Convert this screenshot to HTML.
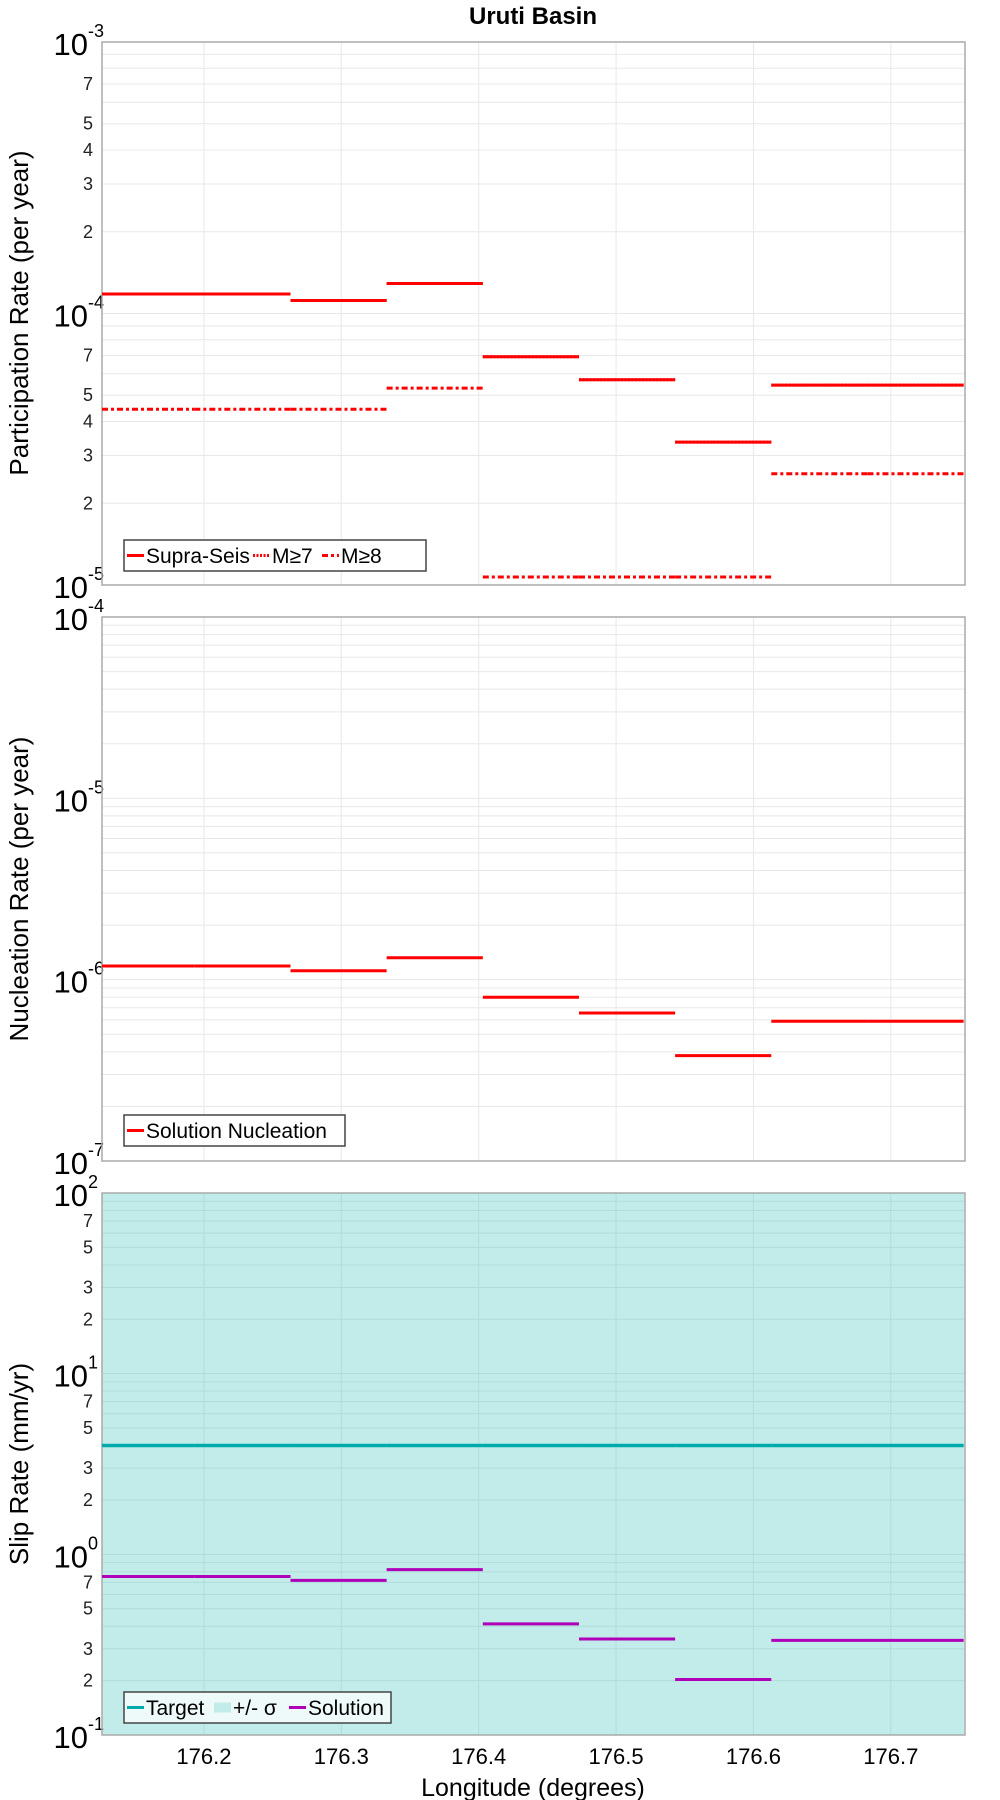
<!DOCTYPE html>
<html><head><meta charset="utf-8"><style>
html,body{margin:0;padding:0;background:#fff}
svg{display:block;font-family:"Liberation Sans","DejaVu Sans",sans-serif}
</style></head><body>
<svg id="c" width="1000" height="1800" viewBox="0 0 1000 1800" xmlns="http://www.w3.org/2000/svg"></svg>
<script>
const bounds=[176.123,176.193,176.263,176.333,176.403,176.473,176.543,176.613,176.683,176.753];
const xTicks=[176.2,176.3,176.4,176.5,176.6,176.7];
const xTickLabels=["176.2","176.3","176.4","176.5","176.6","176.7"];
const supraSeis=[1.18e-4,1.18e-4,1.117e-4,1.29e-4,6.93e-5,5.7e-5,3.36e-5,5.45e-5,5.45e-5];
const m7=[1.18e-4,1.18e-4,1.117e-4,1.29e-4,6.93e-5,5.7e-5,3.36e-5,5.45e-5,5.45e-5];
const m8=[4.44e-5,4.44e-5,4.44e-5,5.31e-5,1.07e-5,1.07e-5,1.07e-5,2.57e-5,2.57e-5];
const nucleation=[1.19e-6,1.19e-6,1.12e-6,1.32e-6,8.0e-7,6.55e-7,3.81e-7,5.9e-7,5.9e-7];
const targetSlip=[4.0,4.0,4.0,4.0,4.0,4.0,4.0,4.0,4.0];
const sigmaLow=[0.05,0.05,0.05,0.05,0.05,0.05,0.05,0.05,0.05];
const sigmaHigh=[200,200,200,200,200,200,200,200,200];
const solutionSlip=[0.754,0.754,0.718,0.823,0.412,0.34,0.203,0.334,0.334];

const NS="http://www.w3.org/2000/svg";
const svg=document.getElementById('c');
const L=102,R=965,X0=176.1258,X1=176.754;
function xs(v){return L+(v-X0)/(X1-X0)*(R-L);}
function xc(v){return Math.max(L,Math.min(R,xs(v)));}
function mk(tag,attrs,parent){const e=document.createElementNS(NS,tag);for(const k in attrs)e.setAttribute(k,attrs[k]);(parent||svg).appendChild(e);return e;}

const panels=[
 {top:42,bot:585,lo:-5,hi:-3,minorLabels:[2,3,4,5,7],name:'participation'},
 {top:617,bot:1161,lo:-7,hi:-4,minorLabels:[],name:'nucleation'},
 {top:1193,bot:1735,lo:-1,hi:2,minorLabels:[2,3,5,7],name:'slip'}
];
function ys(p,v){const lv=Math.log10(v);const c=Math.max(p.lo,Math.min(p.hi,lv));return p.bot-(c-p.lo)/(p.hi-p.lo)*(p.bot-p.top);}

let t=mk('text',{x:533,y:24,'text-anchor':'middle','font-size':24,'font-weight':'bold',fill:'#000'});
t.textContent='Uruti Basin';

panels.forEach((p,pi)=>{
 const g=mk('g',{});
 
 
 if(pi===2){
  for(let i=0;i<sigmaLow.length;i++){
   const r=mk('rect',{x:xc(bounds[i]),y:ys(p,sigmaHigh[i]),width:xc(bounds[i+1])-xc(bounds[i])+0.5,height:ys(p,sigmaLow[i])-ys(p,sigmaHigh[i]),fill:'#c2ecea'},g);
   
   
  }
 }
 const gc=pi===2?'#b0dcda':'#e8e8e8';
 for(let d=p.lo;d<p.hi;d++){
  for(let m=1;m<=9;m++){
   const v=m*Math.pow(10,d);
   const y=ys(p,v);
   const gl=mk('line',{x1:L,x2:R,y1:y,y2:y,stroke:gc,'stroke-width':1},g);
   
   
   if(m>1&&p.minorLabels.includes(m)){
    const tl=mk('text',{x:L-9,y:y+6,'text-anchor':'end','font-size':18,fill:'#222'},g);
    
    
    tl.textContent=String(m);
   }
  }
 }
 for(let d=p.lo;d<=p.hi;d++){
  const y=ys(p,Math.pow(10,d));
  const tl=mk('text',{x:L-14,y:y+13,'text-anchor':'end','font-size':31,fill:'#000'},g);
  
  
  tl.textContent='10';
  const sp=mk('text',{x:L-14,y:y-5,'text-anchor':'start','font-size':18,fill:'#000'},g);
  
  
  sp.textContent=String(d);
 }
 xTicks.forEach(v=>{
  const vl=mk('line',{x1:xs(v),x2:xs(v),y1:p.top,y2:p.bot,stroke:gc,'stroke-width':1},g);
  
  
 });
 const fr=mk('rect',{x:L,y:p.top,width:R-L,height:p.bot-p.top,fill:'none',stroke:'#aaaaaa','stroke-width':1.5},g);
 
 
});

function seriesSeg(p,arr,color,dash,name,w){
 for(let i=0;i<arr.length;i++){
  const y=ys(p,arr[i]);
  const a={x1:xc(bounds[i]),x2:xc(bounds[i+1]),y1:y,y2:y,stroke:color,'stroke-width':w||3};
  if(dash)a['stroke-dasharray']=dash;
  const ln=mk('line',a);
  
  
 }
}
seriesSeg(panels[0],supraSeis,'#ff0000',null,'supra-seis-segment');
seriesSeg(panels[0],m7,'#ff0000','2,1.5','m7-segment');
seriesSeg(panels[0],m8,'#ff0000','6,3,3,3','m8-segment');
seriesSeg(panels[1],nucleation,'#ff0000',null,'nucleation-segment');
seriesSeg(panels[2],targetSlip,'#00aaaa',null,'target-slip-segment',3.5);
seriesSeg(panels[2],solutionSlip,'#b000b8',null,'solution-slip-segment');

[['Participation Rate (per year)',313,'participation-axis-title'],['Nucleation Rate (per year)',889,'nucleation-axis-title'],['Slip Rate (mm/yr)',1464,'slip-axis-title']].forEach(a=>{
 const e=mk('text',{x:0,y:0,transform:'translate(28,'+a[1]+') rotate(-90)','text-anchor':'middle','font-size':26,fill:'#000'});
 
 
 e.textContent=a[0];
});
xTicks.forEach((v,i)=>{
 const e=mk('text',{x:xs(v),y:1764,'text-anchor':'middle','font-size':22,fill:'#000'});
 
 
 e.textContent=xTickLabels[i];
});
let xt=mk('text',{x:533,y:1796,'text-anchor':'middle','font-size':25,fill:'#000'});
xt.textContent='Longitude (degrees)';

function legend(x,y,w,bg,items,name){
 const g=mk('g',{});
 
 
 mk('rect',{x:x,y:y,width:w,height:31,fill:bg,stroke:'#444','stroke-width':1.5},g);
 let cx=x+3;
 items.forEach(it=>{
  const a={x1:cx,x2:cx+17,y1:y+15.5,y2:y+15.5,stroke:it.c,'stroke-width':it.sw||3};
  if(it.d)a['stroke-dasharray']=it.d;
  const s=mk('line',a,g);
  
  
  const tx=mk('text',{x:cx+19,y:y+23,'font-size':21,fill:'#000'},g);
  
  
  tx.textContent=it.t;
  cx+=19+it.w;
 });
}
legend(124,540,302,'#ffffff',[{t:'Supra-Seis',c:'#ff0000',w:107},{t:'M≥7',c:'#ff0000',d:'2,1.5',w:50},{t:'M≥8',c:'#ff0000',d:'6,3,3,3',w:50}],'participation-legend');
legend(124,1115,221,'#ffffff',[{t:'Solution Nucleation',c:'#ff0000',w:190}],'nucleation-legend');
legend(124,1692,267,'#eefaf9',[{t:'Target',c:'#00aaaa',w:68},{t:'+/- σ',c:'#c2ecea',sw:10,w:56},{t:'Solution',c:'#b000b8',w:80}],'slip-legend');
</script>
</body></html>
